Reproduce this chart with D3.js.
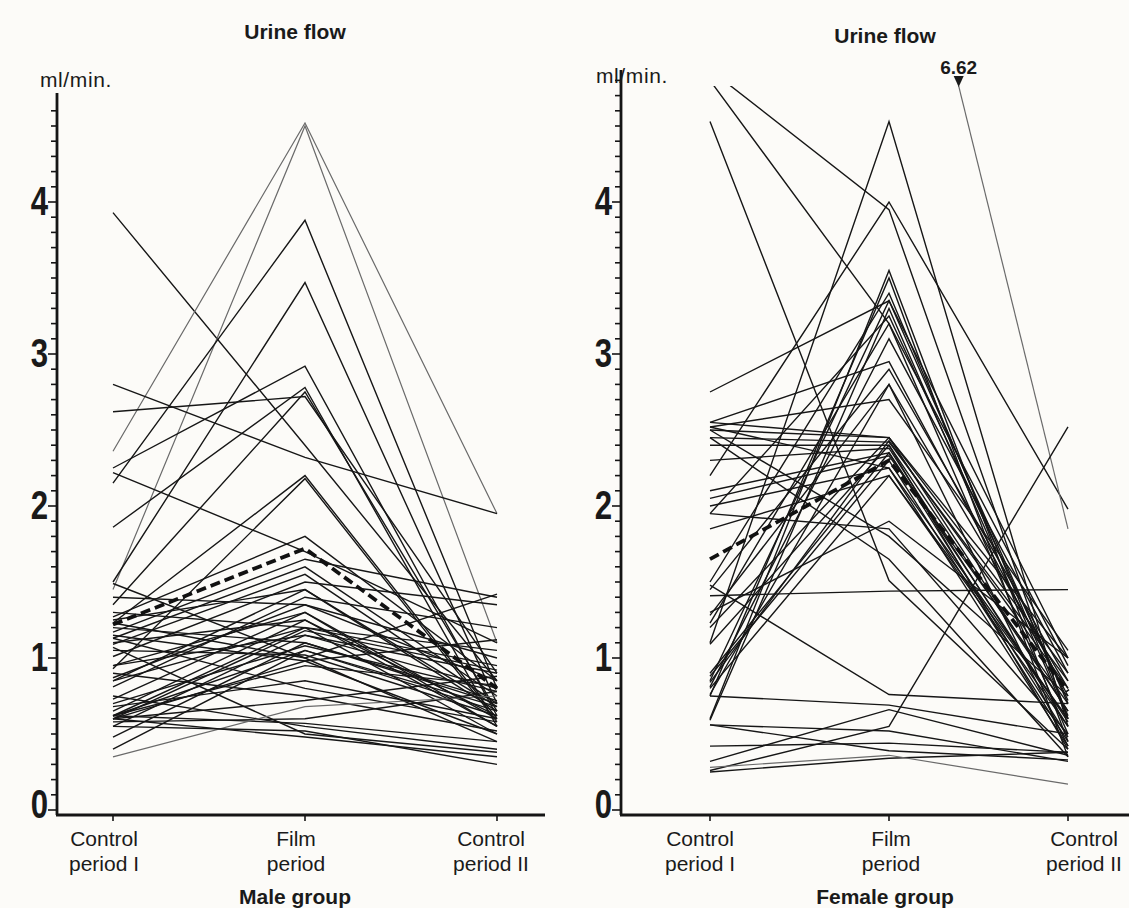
<!DOCTYPE html>
<html>
<head>
<meta charset="utf-8">
<script src="https://cdn.jsdelivr.net/npm/d3@7"></script>
<style>
  html, body { margin: 0; padding: 0; background: #fcfbf8; }
  svg { display: block; }
  text { font-family: "Liberation Sans", Arial, sans-serif; fill: #1a1a1a; }
</style>
</head>
<body>
<svg id="chart" width="1129" height="908"></svg>
<script>
// Urine flow (ml/min) per subject over three periods
const categories = ["Control period I", "Film period", "Control period II"];
const categoryLines = [["Control", "period I"], ["Film", "period"], ["Control", "period II"]];
const yTickValues = [0, 1, 2, 3, 4];

// Male group: one entry per subject
const maleCtrl1 = [3.93, 2.36, 1.45, 2.15, 1.50, 2.80, 2.62, 2.25, 1.86, 1.35, 1.23, 0.93, 1.27, 1.17, 1.13, 1.09,
                   1.01, 0.85, 0.81, 0.73, 0.65, 0.62, 0.55, 0.48, 0.40, 1.49, 1.23, 1.05, 0.60, 0.62, 1.13, 0.90,
                   0.60, 0.58, 0.62, 0.75, 1.07, 0.60, 0.35, 0.55, 1.40, 1.30, 0.95, 2.22, 0.87, 0.70, 1.20,
                   1.10, 0.95, 0.62, 1.25, 0.68, 1.15, 0.85, 0.60];
const maleFilm  = [2.40, 4.52, 4.50, 3.88, 3.47, 2.32, 2.72, 2.92, 2.78, 2.75, 2.20, 2.18, 1.80, 1.65, 1.60, 1.55,
                   1.50, 1.45, 1.40, 1.30, 1.25, 1.20, 1.15, 1.10, 1.05, 1.00, 1.00, 1.02, 0.98, 0.95, 0.80, 0.75,
                   0.72, 0.60, 0.57, 0.55, 0.50, 0.48, 0.68, 0.52, 1.35, 1.20, 1.15, 1.70, 1.35, 1.08, 1.10,
                   1.25, 1.30, 1.05, 1.45, 0.85, 0.98, 1.20, 1.18];
const maleCtrl2 = [0.85, 1.95, 1.10, 0.80, 0.70, 1.95, 0.90, 0.62, 0.55, 0.65, 0.60, 0.58, 0.85, 1.40, 0.75, 0.70,
                   1.35, 0.68, 1.20, 0.60, 0.55, 0.50, 0.80, 0.72, 0.65, 0.45, 1.42, 0.62, 1.12, 0.82, 0.58, 0.52,
                   0.88, 0.78, 0.45, 0.40, 0.38, 0.35, 0.75, 0.30, 1.00, 0.95, 0.90, 1.10, 0.85, 0.78, 0.70,
                   0.62, 0.55, 0.68, 0.65, 0.60, 0.50, 1.05, 0.92];
const maleMean = [1.22, 1.72, 0.80];

// Female group: one entry per subject (null = not shown)
const femaleCtrl1 = [4.87, 4.80, 4.53, 1.10, 2.20, null, 2.75, 0.60, 0.75, 0.85, 0.59, 1.23, 0.81, 2.55, 1.28, 2.52,
                     2.50, 2.45, 2.40, 2.30, 2.10, 2.05, 2.00, 1.85, 1.95, 2.50, 2.45, 1.41, 1.48, 0.75, 0.56, 0.56,
                     0.42, 0.32, 0.26, 0.25, 0.28, 1.09, 0.88, 0.84, 1.50, 0.76, 1.20, 1.30, 2.55, 0.80,
                     2.52, 1.95, 0.90, 1.45];
const femaleFilm  = [3.95, 3.20, 1.51, 4.53, 4.00, 6.62, 3.35, 3.55, 3.50, 3.35, 3.30, 3.20, 3.10, 2.95, 2.80, 2.70,
                     2.45, 2.42, 2.40, 2.38, 2.35, 2.33, 2.25, 2.20, 1.85, 1.80, 1.65, 1.44, 0.76, 0.69, 0.52, 0.39,
                     0.44, 0.66, 0.55, 0.34, 0.36, 2.40, 2.30, 2.43, 3.40, 2.80, 2.45, 1.90, 2.45, 2.20,
                     2.25, 3.25, 2.35, 2.90];
const femaleCtrl2 = [0.60, 0.50, 0.40, 0.55, 1.98, 1.85, 1.00, 0.45, 0.35, 0.70, 0.60, 0.95, 0.90, 0.75, 0.80, 1.05,
                     1.00, 0.85, 0.65, 0.55, 0.48, 0.70, 0.42, 0.60, 0.50, 0.75, 0.35, 1.45, 0.70, 0.50, 0.32, 0.33,
                     0.38, 0.36, 2.52, 0.38, 0.17, 0.40, 0.45, 0.80, 0.62, 0.42, 0.90, 1.00, 0.65, 0.55,
                     0.60, 0.72, 0.58, 0.85];
const femaleMean = [1.65, 2.30, 0.78];

// Subjects printed in a lighter tone
const maleLight = [1, 2, 38];
const femaleLight = [5, 36];

const svg = d3.select("#chart");
const y = d3.scaleLinear().domain([0, 4.8]).range([810, 80.4]);

function subjects(c1, f, c2) {
  return c1.map((d, i) => [c1[i], f[i], c2[i]]);
}

function drawPanel(opt) {
  const x = d3.scalePoint().domain(categories).range(opt.xRange);
  const g = svg.append("g");
  const clipId = "clip-" + opt.key;
  svg.append("clipPath").attr("id", clipId)
    .append("rect")
    .attr("x", opt.axisX).attr("y", opt.clipTop)
    .attr("width", opt.axisEnd - opt.axisX).attr("height", y(0) - opt.clipTop + 10);

  const line = d3.line()
    .defined(d => d[1] !== null)
    .x(d => x(d[0]))
    .y(d => y(d[1]));

  const rows = subjects(opt.c1, opt.f, opt.c2);
  const lines = g.append("g").attr("clip-path", `url(#${clipId})`);
  lines.selectAll("path.subject")
    .data(rows)
    .join("path")
    .attr("class", "subject")
    .attr("d", r => line(categories.map((c, i) => [c, r[i]])))
    .attr("fill", "none")
    .attr("stroke", (r, i) => opt.light.includes(i) ? "#6a6a6a" : "#161616")
    .attr("stroke-width", (r, i) => opt.light.includes(i) ? 1.2 : 1.4)
    .attr("stroke-linejoin", "miter");

  // group mean, dashed
  lines.append("path")
    .attr("d", line(categories.map((c, i) => [c, opt.mean[i]])))
    .attr("fill", "none")
    .attr("stroke", "#111")
    .attr("stroke-width", 3.8)
    .attr("stroke-dasharray", "10,5");

  // off-scale marker where a line leaves the plotting area
  rows.forEach((r, i) => {
    if (r[1] !== null && r[1] > y.domain()[1]) {
      const x0 = x(categories[1]), y0 = y(r[1]);
      const x1 = x(categories[2]), y1 = y(r[2]);
      const t = (opt.clipTop - y0) / (y1 - y0);
      const ax = x0 + (x1 - x0) * t, ay = opt.clipTop;
      g.append("path")
        .attr("d", `M${ax - 5},${ay - 10}L${ax + 5},${ay - 10}L${ax},${ay + 1}Z`)
        .attr("fill", "#1a1a1a");
      g.append("text")
        .attr("x", ax).attr("y", ay - 12)
        .attr("text-anchor", "middle")
        .attr("font-size", 19).attr("font-weight", "bold")
        .attr("font-family", "'Liberation Sans Narrow', 'Liberation Sans', Arial, sans-serif")
        .text(r[1].toFixed(2));
    }
  });

  // y axis with tenths
  const minor = d3.range(0, opt.tickTop + 0.001, 0.1);
  g.append("line")
    .attr("x1", opt.axisX).attr("x2", opt.axisX)
    .attr("y1", opt.bottomY).attr("y2", opt.axisTop)
    .attr("stroke", "#151515").attr("stroke-width", 2.8);
  g.selectAll("line.minor").data(minor).join("line")
    .attr("class", "minor")
    .attr("x1", opt.axisX).attr("x2", d => opt.axisX - (Math.abs(d - Math.round(d)) < 0.01 ? 9 : 6))
    .attr("y1", d => y(d)).attr("y2", d => y(d))
    .attr("stroke", "#151515").attr("stroke-width", 1.6);
  g.selectAll("text.ytick").data(yTickValues).join("text")
    .attr("class", "ytick")
    .attr("transform", d => `translate(${opt.axisX - 9},${y(d) + (d === 0 ? 8 : 13)}) scale(0.78,1)`)
    .attr("text-anchor", "end")
    .attr("font-family", "'DejaVu Sans', sans-serif")
    .attr("font-weight", "bold")
    .attr("font-size", 40)
    .text(d => d);

  // x axis
  g.append("line")
    .attr("x1", opt.axisX - 1).attr("x2", opt.axisEnd)
    .attr("y1", opt.bottomY).attr("y2", opt.bottomY)
    .attr("stroke", "#151515").attr("stroke-width", 2.8);
  g.selectAll("line.xtick").data(categories).join("line")
    .attr("class", "xtick")
    .attr("x1", d => x(d)).attr("x2", d => x(d))
    .attr("y1", opt.bottomY).attr("y2", opt.bottomY + 6)
    .attr("stroke", "#151515").attr("stroke-width", 1.6);
  categories.forEach((c, i) => {
    const t = g.append("text")
      .attr("x", x(c) + opt.labelShift[i]).attr("y", opt.bottomY + 31)
      .attr("text-anchor", "middle")
      .attr("font-size", 21);
    categoryLines[i].forEach((s, k) => {
      t.append("tspan").attr("x", x(c) + opt.labelShift[i]).attr("dy", k === 0 ? 0 : 25).text(s);
    });
  });

  // titles
  g.append("text")
    .attr("x", opt.titleX).attr("y", opt.titleY)
    .attr("text-anchor", "middle")
    .attr("font-size", 21).attr("font-weight", "bold")
    .text("Urine flow");
  g.append("text")
    .attr("x", opt.unitX).attr("y", opt.unitY)
    .attr("font-size", 21)
    .attr("letter-spacing", 0.6)
    .text("ml/min.");
  g.append("text")
    .attr("x", opt.titleX).attr("y", 904)
    .attr("text-anchor", "middle")
    .attr("font-size", 21).attr("font-weight", "bold")
    .text(opt.group);
}

drawPanel({
  key: "male", group: "Male group",
  c1: maleCtrl1, f: maleFilm, c2: maleCtrl2, mean: maleMean, light: maleLight,
  xRange: [113, 497], axisX: 57, axisEnd: 545, axisTop: 93, tickTop: 4.6,
  bottomY: 815, clipTop: 60, labelShift: [-9, -9, -6],
  titleX: 295, titleY: 39, unitX: 40, unitY: 87
});

drawPanel({
  key: "female", group: "Female group",
  c1: femaleCtrl1, f: femaleFilm, c2: femaleCtrl2, mean: femaleMean, light: femaleLight,
  xRange: [710, 1068], axisX: 621, axisEnd: 1129, axisTop: 70, tickTop: 4.8,
  bottomY: 815, clipTop: 86, labelShift: [-10, 2, 16],
  titleX: 885, titleY: 43, unitX: 596, unitY: 83
});
</script>
</body>
</html>
